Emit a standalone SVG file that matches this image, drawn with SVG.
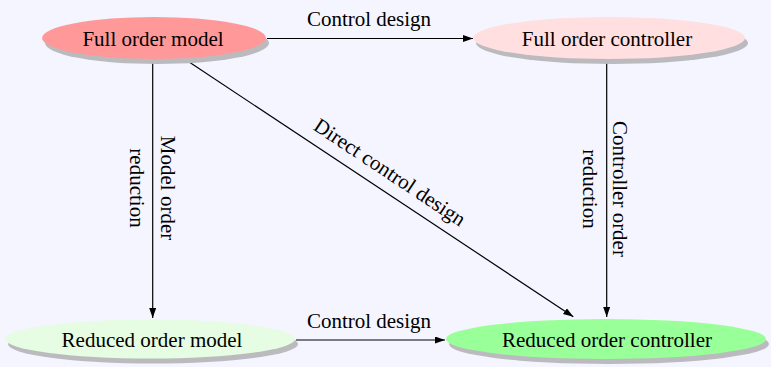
<svg xmlns="http://www.w3.org/2000/svg" width="771" height="367" viewBox="0 0 771 367">
  <defs>
    <marker id="arrow" markerUnits="userSpaceOnUse" markerWidth="11" markerHeight="8" refX="10" refY="3.5" orient="auto">
      <path d="M0,0 L10,3.5 L0,7 z" fill="#000"/>
    </marker>
  </defs>
  <style>
    text { font-family: "Liberation Serif", "Times New Roman", serif; font-size: 21px; fill: #000; }
    .node text { text-anchor: middle; }
    .shadow { fill: #bbbbbf; }
    .edge { stroke: #000; stroke-width: 1.2; fill: none; marker-end: url(#arrow); }
    .lbl { text-anchor: middle; }
  </style>

  <rect width="771" height="367" fill="#f5f5ff"/>

  <!-- connectors -->
  <g id="connectors">
    <line class="edge" x1="267" y1="38.5" x2="473" y2="38.5"/>
    <line class="edge" x1="296" y1="340" x2="445" y2="340"/>
    <line class="edge" x1="152.7" y1="59" x2="152.7" y2="318"/>
    <line class="edge" x1="606.7" y1="58" x2="606.7" y2="317"/>
    <line class="edge" x1="185" y1="59.3" x2="573.3" y2="316.7"/>
    <text class="lbl" x="369" y="25.5">Control design</text>
    <text class="lbl" x="369" y="327.5">Control design</text>
    <g transform="translate(146,188) rotate(90)">
      <text class="lbl" x="0" y="-15">Model order</text>
      <text class="lbl" x="0" y="16">reduction</text>
    </g>
    <g transform="translate(598,189) rotate(90)">
      <text class="lbl" x="0" y="-15">Controller order</text>
      <text class="lbl" x="0" y="15">reduction</text>
    </g>
    <text class="lbl" transform="translate(386,178) rotate(33.56)">Direct control design</text>
  </g>

  <!-- nodes -->
  <g id="full-order-model" class="node">
    <ellipse class="shadow" cx="157" cy="43" rx="112" ry="21"/>
    <ellipse cx="154" cy="38" rx="112" ry="21" fill="#ff9999"/>
    <text x="153" y="46">Full order model</text>
  </g>
  <g id="full-order-controller" class="node">
    <ellipse class="shadow" cx="612" cy="43" rx="136" ry="21"/>
    <ellipse cx="609" cy="38" rx="136" ry="21" fill="#ffdfdf"/>
    <text x="607" y="46">Full order controller</text>
  </g>
  <g id="reduced-order-model" class="node">
    <ellipse class="shadow" cx="153" cy="344" rx="145" ry="19.5"/>
    <ellipse cx="150" cy="339" rx="145" ry="19.5" fill="#e6fce3"/>
    <text x="152" y="346.5">Reduced order model</text>
  </g>
  <g id="reduced-order-controller" class="node">
    <ellipse class="shadow" cx="609" cy="344" rx="160" ry="20"/>
    <ellipse cx="606" cy="339" rx="160" ry="20" fill="#99ff99"/>
    <text x="607" y="347">Reduced order controller</text>
  </g>
</svg>
